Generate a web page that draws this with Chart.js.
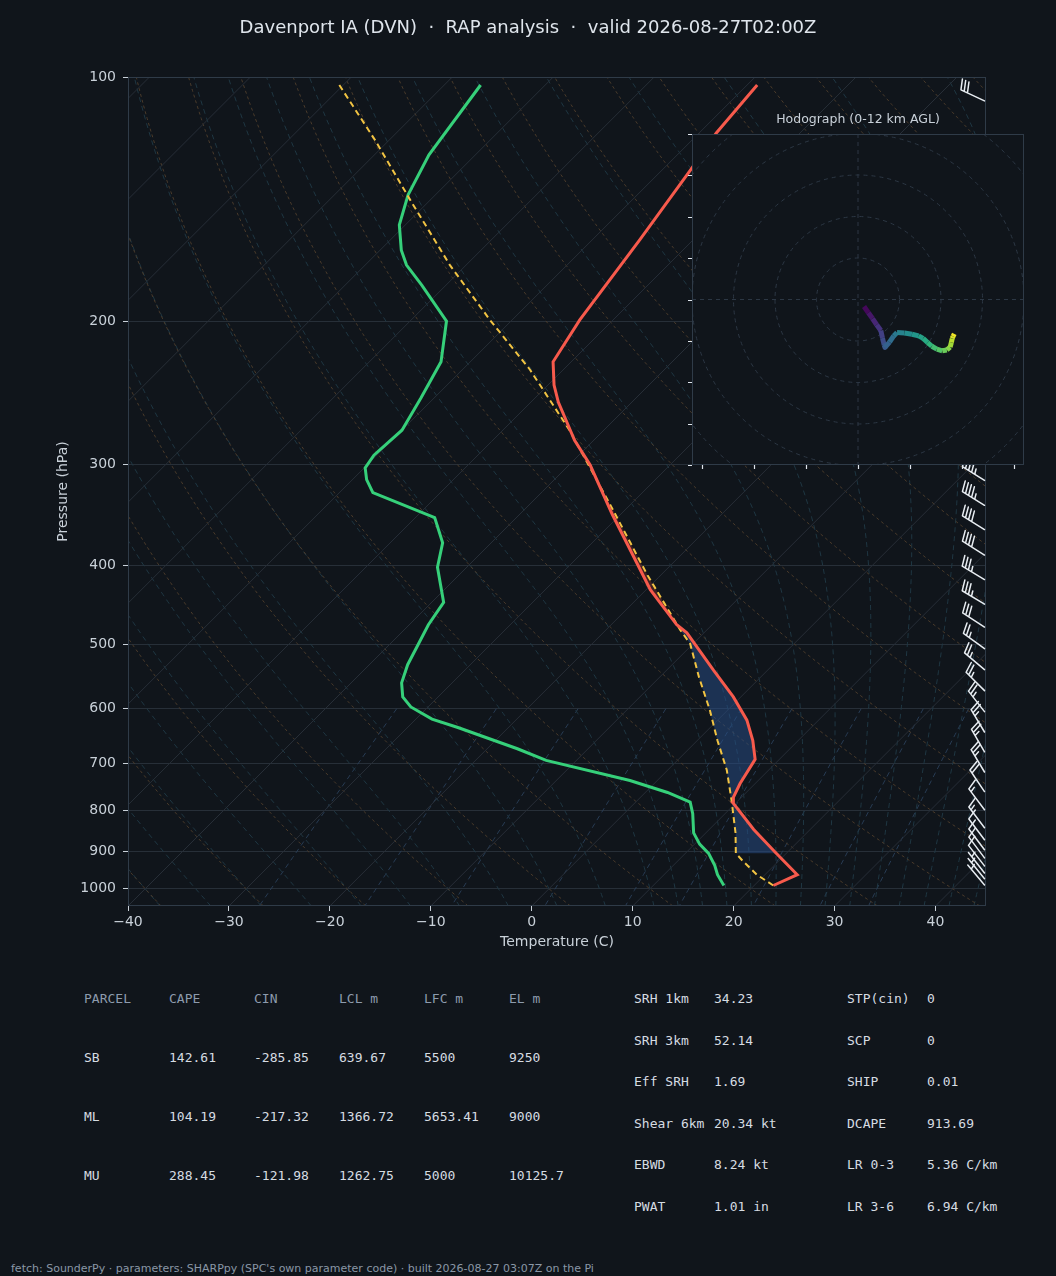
<!DOCTYPE html>
<html><head><meta charset="utf-8">
<script src="https://cdn.jsdelivr.net/npm/chart.js@4.4.1/dist/chart.umd.min.js"></script>
<style>
html,body{margin:0;padding:0;background:#10151b;}
#wrap{position:relative;width:1056px;height:1276px;overflow:hidden;background:#10151b;font-family:'DejaVu Sans',sans-serif;}
#main{position:absolute;left:0;top:0;}
#hodo{position:absolute;left:680px;top:105px;}
.t{position:absolute;white-space:pre;line-height:16px;font-family:'DejaVu Sans Mono',monospace;font-size:13px;color:#d6dce2;}
.h{color:#8d9bad;}
#title{position:absolute;left:0;top:16px;width:1056px;text-align:center;white-space:pre;font-size:18px;line-height:22px;color:#dfe5ec;}
#footer{position:absolute;left:11px;top:1262px;white-space:pre;font-size:11px;line-height:14px;color:#8a97a6;}
</style></head><body><div id="wrap">
<canvas id="main" width="1056" height="965"></canvas>
<canvas id="hodo" width="356" height="372"></canvas>
<div id="title">Davenport IA (DVN)  ·  RAP analysis  ·  valid 2026-08-27T02:00Z</div>
<div id="tables"></div>
<div id="footer">fetch: SounderPy · parameters: SHARPpy (SPC's own parameter code) · built 2026-08-27 03:07Z on the Pi</div>
</div>
<script>
// ---------------- data ----------------
const xTicks = [-40,-30,-20,-10,0,10,20,30,40];
const yTicks = [100,200,300,400,500,600,700,800,900,1000];

const tempP = [990.7,960.8,900.3,845.0,784.1,771.3,741.8,692.7,656.6,619.8,580.2,537.6,483.8,472.9,428,345.9,300.6,280.2,251.4,239.6,224.3,199.2,158.7,130.1,117.2,102.3];
const tempC = [21.9,23.2,18.7,14.4,9.75,9.2,8.5,7.6,5.5,2.9,-0.75,-5.4,-11.7,-13.5,-19.6,-30.8,-37.9,-41.9,-47.3,-49.4,-51.8,-53.3,-55.3,-57.2,-58.3,-59.0];

const dewP = [990.7,960.8,935.7,904.3,881.0,853.5,808.1,782.0,760.9,735.6,694.7,672.2,632.9,617.9,597.0,580.2,557.6,529.6,472.9,443.9,422.8,401.7,374.9,348.9,325.0,313.3,303.1,292.3,272.3,248.6,224.3,199.8,180.5,170.5,163.4,152.1,139.7,124.7,102.3];
const dewC = [17.0,15.3,14.1,12.3,10.5,8.8,6.8,5.4,2.2,-2.7,-13.0,-17.0,-25.0,-28.4,-31.7,-33.5,-35.0,-36.2,-38.1,-38.8,-40.8,-42.9,-44.8,-48.1,-56.7,-58.6,-59.9,-60.3,-60.0,-61.3,-62.9,-66.4,-72.4,-75.9,-77.9,-80.6,-82.7,-84.6,-86.4];

const parcelP = [990.7,960.8,926.2,904.3,853.5,777.6,714.0,656.6,602.6,548.7,498.9,480.2,410.9,336.3,272.3,229.4,199.2,170.5,141.7,119.6,102.3];
const parcelC = [21.9,19.2,16.6,15.0,12.95,9.3,5.85,2.0,-1.75,-6.1,-10.3,-12.6,-21.3,-32.0,-43.4,-53.3,-62.2,-71.6,-82.0,-91.4,-100.4];

const lclP = 904.3;   // base of shaded parcel area

const barbP   = [107,130,150,175,200,225,250,280,314,337,361,388,416,446,476,506,537,570,605,641,678,718,759,799,841,870,895,916,937,956,972,989];
const barbDir = [295,290,290,290,290,292,295,298,302,302,302,302,301,301,303,306,310,315,322,329,330,329,326,323,323,323,323,323,322,322,321,320];
const barbKt  = [30,35,40,45,48,47,47,47,45,43,40,38,35,33,29,27,24,24,25,25,25,23,20,17,14,12,10,9,8,6,5,4];

const hodoH = [0,0.5,1,1.5,2,2.5,3,3.5,4,4.5,5,5.5,6,6.5,7,7.5,8,8.5,9,9.5,10,10.5,11,11.5,12];
const hodoU = [1.45,2.5,3.5,4.5,5.5,5.9,6.3,6.5,7.6,8.6,9.4,11.2,13.0,14.6,15.7,16.8,17.8,19.0,20.3,21.4,22.2,22.5,22.7,22.9,23.2];
const hodoV = [-1.7,-3.2,-4.6,-6.1,-7.5,-9.3,-11.0,-11.6,-10.3,-8.8,-8.0,-8.1,-8.4,-8.8,-9.4,-10.4,-11.3,-12.0,-12.4,-12.2,-11.5,-10.4,-9.4,-8.9,-8.3];
const hodoRings = [10,20,30,40,50];
const hodoXTicks = [-37.5,-25,-12.5,0,12.5,25,37.5];
const hodoYTicks = [-40,-30,-20,-10,0,10,20,30,40];

const parcelHeader = ["PARCEL","CAPE","CIN","LCL m","LFC m","EL m"];
const parcelSB = ["SB","142.61","-285.85","639.67","5500","9250"];
const parcelML = ["ML","104.19","-217.32","1366.72","5653.41","9000"];
const parcelMU = ["MU","288.45","-121.98","1262.75","5000","10125.7"];
const paramNames1 = ["SRH 1km","SRH 3km","Eff SRH","Shear 6km","EBWD","PWAT"];
const paramVals1  = ["34.23","52.14","1.69","20.34 kt","8.24 kt","1.01 in"];
const paramNames2 = ["STP(cin)","SCP","SHIP","DCAPE","LR 0-3","LR 3-6"];
const paramVals2  = ["0","0","0.01","913.69","5.36 C/km","6.94 C/km"];

// reference-line families (same defaults as MetPy)
const isoT = []; for (let t=-130;t<=40;t+=10) isoT.push(t);
const dryT0 = []; for (let t=-40;t<=240;t+=10) dryT0.push(t);
const moistT0 = [-50,-45,-40,-35,-30,-25,-20,-15,-10,-5,0,5,10,12.5,15,17.5,20,22.5,25,27.5,30,32.5,35,37.5,40,42.5,45];
const mixW = [0.0004,0.001,0.002,0.004,0.007,0.01,0.016,0.024,0.032];

// ---------------- skew-T helpers ----------------
const X_MIN=-40, X_MAX=45, P_BOT=1050, P_TOP=100;
const CW=858, CH=829;  // chart area size -> 45 degree isotherms
function skew(p){ return (X_MAX-X_MIN)*(CH/CW)*Math.log(P_BOT/p)/Math.log(P_BOT/P_TOP); }
function pt(T,p){ return {x:T+skew(p), y:p}; }
function interpLogP(P,V,p){
  for (let i=0;i<P.length-1;i++){
    const a=P[i], b=P[i+1];
    if ((p<=a && p>=b)){ const f=Math.log(a/p)/Math.log(a/b); return V[i]+(V[i+1]-V[i])*f; }
  }
  return NaN;
}
const Rd=287.04749, Cp=1004.6662, Lv=2.50084e6, EPS=0.6219569;
function esat(TK){ const c=TK-273.15; return 6.112*Math.exp(17.67*c/(c+243.5)); }
function dTdlnp(TK,p){ const e=esat(TK); const rs=EPS*e/(p-e); return (Rd*TK+Lv*rs)/(Cp+Lv*Lv*rs*EPS/(Rd*TK*TK)); }
function moistLine(t0){
  const pts=[];
  function march(pEnd, step){
    let lnp=Math.log(1000), T=t0+273.15; const out=[{T,p:1000}];
    const n=Math.ceil(Math.abs(Math.log(pEnd/1000))/step); const h=Math.log(pEnd/1000)/n;
    for (let i=0;i<n;i++){
      const k1=dTdlnp(T,Math.exp(lnp));
      const k2=dTdlnp(T+h*k1/2,Math.exp(lnp+h/2));
      const k3=dTdlnp(T+h*k2/2,Math.exp(lnp+h/2));
      const k4=dTdlnp(T+h*k3,Math.exp(lnp+h));
      T+=h*(k1+2*k2+2*k3+k4)/6; lnp+=h; out.push({T,p:Math.exp(lnp)});
    }
    return out;
  }
  const down=march(1050,0.02).reverse(); const up=march(100,0.02);
  down.concat(up.slice(1)).forEach(o=>pts.push(pt(o.T-273.15,o.p)));
  return pts;
}
const logPs=[]; for(let i=0;i<=60;i++) logPs.push(P_BOT*Math.pow(P_TOP/P_BOT,i/60));

const datasets=[];
function bg(data,color,dash){ datasets.push({data,showLine:true,borderColor:color,borderWidth:1,borderDash:dash,pointRadius:0,fill:false,tension:0,order:10}); }
isoT.forEach(t=>bg([pt(t,P_BOT),pt(t,P_TOP)],'#272e37',[]));
dryT0.forEach(t=>bg(logPs.map(p=>pt((t+273.15)*Math.pow(p/1000,0.2857)-273.15,p)),'#4a3b2b',[3,3]));
moistT0.forEach(t=>bg(moistLine(t),'#1f3743',[5,4]));
mixW.forEach(w=>{
  const d=[]; for(let i=0;i<=10;i++){ const p=600+45*i; const e=p*w/(EPS+w); const l=Math.log(e/6.112); d.push(pt(243.5*l/(17.67-l),p)); }
  bg(d,'#283c54',[5,4]);
});

// shaded parcel areas (negative below first crossing, positive above)
const fine=[]; for(let i=0;i<=400;i++) fine.push(lclP*Math.pow(250/lclP,i/400));
const diff=fine.map(p=>interpLogP(parcelP,parcelC,p)-interpLogP(tempP,tempC,p));
let cross1=-1, cross2=-1;
for(let i=1;i<fine.length;i++){ if(cross1<0 && diff[i-1]<0 && diff[i]>=0) cross1=i; else if(cross1>=0 && cross2<0 && diff[i-1]>0 && diff[i]<=0) cross2=i; }
function shade(i0,i1,color){
  const ps=fine.slice(i0,i1+1);
  const a=ps.map(p=>pt(interpLogP(parcelP,parcelC,p),p));
  const b=ps.slice().reverse().map(p=>pt(interpLogP(tempP,tempC,p),p));
  datasets.push({data:a.concat(b),showLine:true,borderColor:'rgba(0,0,0,0)',borderWidth:1,backgroundColor:color,fill:'shape',pointRadius:0,tension:0,order:5});
}
if(cross1>0){ shade(0,cross1,'rgba(40,80,140,0.5)'); if(cross2>0) shade(cross1,cross2,'rgba(210,70,50,0.25)'); }

datasets.push({data:parcelP.map((p,i)=>pt(parcelC[i],p)),showLine:true,borderColor:'#f2c443',borderWidth:2,borderDash:[6,4],pointRadius:0,fill:false,tension:0,order:1});
datasets.push({data:dewP.map((p,i)=>pt(dewC[i],p)),showLine:true,borderColor:'#36d07a',borderWidth:3,pointRadius:0,fill:false,tension:0,order:1});
datasets.push({data:tempP.map((p,i)=>pt(tempC[i],p)),showLine:true,borderColor:'#f75a4c',borderWidth:3,pointRadius:0,fill:false,tension:0,order:0});

// ---------------- plugins ----------------
function drawBarb(ctx,x,y,dir,kt){
  const L=26,H=10.5,W=6.5,SP=3.6;
  const r=dir*Math.PI/180, dx=Math.sin(r), dy=-Math.cos(r), nx=-dy, ny=dx;
  let s5=5*Math.round(kt/5);
  const flags=Math.floor(s5/50); s5-=flags*50;
  const fulls=Math.floor(s5/10); s5-=fulls*10;
  const half=s5>=5;
  ctx.beginPath(); ctx.moveTo(x,y); ctx.lineTo(x+dx*L,y+dy*L);
  let s=L;
  for(let i=0;i<flags;i++){
    const px=x+dx*s,py=y+dy*s;
    ctx.moveTo(px,py); ctx.lineTo(px+nx*H-dx*W/2,py+ny*H-dy*W/2); ctx.lineTo(x+dx*(s-W),y+dy*(s-W));
    s-=W+SP;
  }
  for(let i=0;i<fulls;i++){
    const px=x+dx*s,py=y+dy*s;
    ctx.moveTo(px,py); ctx.lineTo(px+nx*H+dx*W/2,py+ny*H+dy*W/2); s-=SP;
  }
  if(half){
    if(flags===0&&fulls===0) s-=1.5*SP;
    const px=x+dx*s,py=y+dy*s;
    ctx.moveTo(px,py); ctx.lineTo(px+nx*H/2+dx*W/4,py+ny*H/2+dy*W/4);
  }
  ctx.stroke();
}
const skewExtras={
  id:'skewExtras',
  afterDatasetsDraw(chart){
    const {ctx,chartArea:a,scales}=chart;
    ctx.save();
    ctx.strokeStyle='#2f3b48'; ctx.lineWidth=1;
    ctx.strokeRect(a.left+0.5,a.top+0.5,a.right-a.left-1,a.bottom-a.top-1);
    ctx.strokeStyle='#e8edf2'; ctx.lineWidth=1.5; ctx.lineCap='round';
    barbP.forEach((p,i)=>drawBarb(ctx,a.right-1.5,scales.y.getPixelForValue(p),barbDir[i],barbKt[i]));
    ctx.restore();
  }
};

const tickColor='#c9d1d9';
new Chart(document.getElementById('main'),{
  type:'scatter',
  data:{datasets},
  options:{
    responsive:false,animation:false,events:[],
    layout:{padding:{left:50,right:70,top:77,bottom:9}},
    plugins:{legend:{display:false},tooltip:{enabled:false}},
    scales:{
      x:{type:'linear',min:X_MIN,max:X_MAX,
        afterBuildTicks:s=>{s.ticks=xTicks.map(v=>({value:v}));},
        afterFit:s=>{s.height=50;},
        grid:{drawOnChartArea:false,drawTicks:true,tickLength:5,tickColor:tickColor},
        border:{display:false},
        ticks:{color:tickColor,font:{family:'DejaVu Sans',size:14},padding:3,maxRotation:0,autoSkip:false,
          callback:v=>(v<0?'\u2212':'')+Math.abs(v)},
        title:{display:true,text:'Temperature (C)',color:tickColor,font:{family:'DejaVu Sans',size:14},padding:{top:0,bottom:5}}
      },
      y:{type:'logarithmic',reverse:true,min:P_TOP,max:P_BOT,
        afterBuildTicks:s=>{s.ticks=yTicks.map(v=>({value:v}));},
        afterFit:s=>{s.width=78;},
        grid:{color:'#272f38',lineWidth:1,drawTicks:true,tickLength:5,tickColor:tickColor},
        border:{display:false},
        ticks:{color:tickColor,font:{family:'DejaVu Sans',size:14},padding:7,autoSkip:false,callback:v=>String(v)},
        title:{display:true,text:'Pressure (hPa)',color:tickColor,font:{family:'DejaVu Sans',size:14},padding:{top:5,bottom:0}}
      }
    }
  },
  plugins:[skewExtras]
});

// ---------------- hodograph ----------------
const VIR=['#440154','#472d7b','#3b528b','#2c728e','#21918c','#28ae80','#5ec962','#addc30','#fde725'];
function hx(h){return [1,3,5].map(i=>parseInt(h.substr(i,2),16));}
function viridis(t){t=Math.max(0,Math.min(1,t));const f=t*(VIR.length-1);const i=Math.min(VIR.length-2,Math.floor(f));const u=f-i;const a=hx(VIR[i]),b=hx(VIR[i+1]);return 'rgb('+a.map((c,k)=>Math.round(c+(b[k]-c)*u)).join(',')+')';}
const hodoFrame={
  id:'hodoFrame',
  beforeDatasetsDraw(chart){
    const {ctx,chartArea:a,scales:{x,y}}=chart;
    ctx.save();
    ctx.fillStyle='#10151b'; ctx.fillRect(a.left,a.top,a.right-a.left,a.bottom-a.top);
    ctx.beginPath(); ctx.rect(a.left,a.top,a.right-a.left,a.bottom-a.top); ctx.clip();
    ctx.strokeStyle='#2c3744'; ctx.lineWidth=1; ctx.setLineDash([4,4]);
    const cx=x.getPixelForValue(0), cy=y.getPixelForValue(0);
    hodoRings.forEach(r=>{const rp=x.getPixelForValue(r)-cx; ctx.beginPath(); ctx.arc(cx,cy,rp,0,Math.PI*2); ctx.stroke();});
    ctx.beginPath(); ctx.moveTo(a.left,cy); ctx.lineTo(a.right,cy); ctx.moveTo(cx,a.top); ctx.lineTo(cx,a.bottom); ctx.stroke();
    ctx.restore();
  },
  afterDatasetsDraw(chart){
    const {ctx,chartArea:a,scales:{x,y}}=chart;
    ctx.save();
    ctx.strokeStyle='#2f3b48'; ctx.lineWidth=1;
    ctx.strokeRect(a.left+0.5,a.top+0.5,a.right-a.left-1,a.bottom-a.top-1);
    ctx.strokeStyle='#dfe5ec'; ctx.lineWidth=1.2;
    ctx.beginPath();
    hodoYTicks.forEach(v=>{const py=Math.round(y.getPixelForValue(v))+0.5; ctx.moveTo(a.left-4,py); ctx.lineTo(a.left,py);});
    hodoXTicks.forEach(v=>{const px=Math.round(x.getPixelForValue(v))+0.5; ctx.moveTo(px,a.bottom); ctx.lineTo(px,a.bottom+4);});
    ctx.stroke();
    ctx.fillStyle='#c9d1d9'; ctx.font='12.5px "DejaVu Sans"'; ctx.textAlign='center'; ctx.textBaseline='middle';
    ctx.fillText('Hodograph (0-12 km AGL)',(a.left+a.right)/2,a.top-14);
    ctx.restore();
  }
};
new Chart(document.getElementById('hodo'),{
  type:'scatter',
  data:{datasets:[{data:hodoU.map((u,i)=>({x:u,y:hodoV[i]})),showLine:true,borderWidth:5,pointRadius:0,tension:0,borderCapStyle:'butt',borderJoinStyle:'round',
    segment:{borderColor:c=>viridis((hodoH[c.p0DataIndex]+hodoH[c.p1DataIndex])/24)}}]},
  options:{responsive:false,animation:false,events:[],
    layout:{padding:{left:12,right:12,top:29,bottom:12}},
    plugins:{legend:{display:false},tooltip:{enabled:false}},
    scales:{x:{display:false,min:-40,max:40},y:{display:false,min:-40,max:40}}},
  plugins:[hodoFrame]
});

// ---------------- tables ----------------
const tbl=document.getElementById('tables');
function put(txt,x,yc,cls){const s=document.createElement('div');s.className='t'+(cls?' '+cls:'');s.textContent=txt;s.style.left=x+'px';s.style.top=(yc-8)+'px';tbl.appendChild(s);}
const colX=[84,169,254,339,424,509];
[parcelHeader,parcelSB,parcelML,parcelMU].forEach((row,r)=>row.forEach((v,c)=>put(v,colX[c],[999,1058,1117,1176][r],r===0?'h':'')));
const rowY=[999,1041,1082,1124,1165,1207];
paramNames1.forEach((n,i)=>{put(n,634,rowY[i]);put(paramVals1[i],714,rowY[i]);});
paramNames2.forEach((n,i)=>{put(n,847,rowY[i]);put(paramVals2[i],927,rowY[i]);});
</script>
</body></html>
